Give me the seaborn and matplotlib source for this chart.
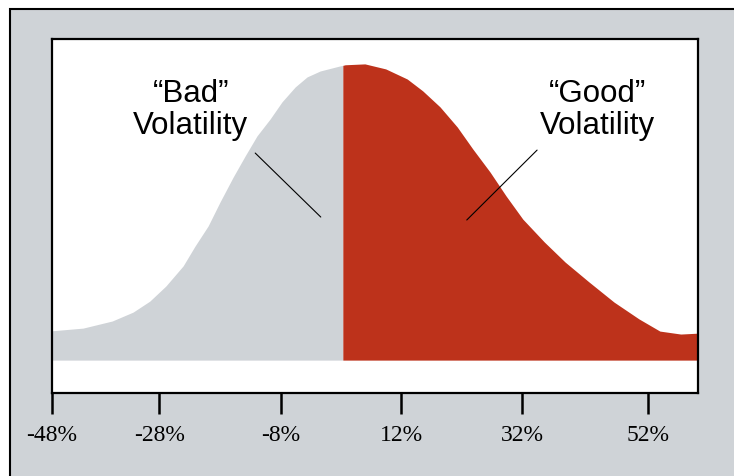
import numpy as np
import matplotlib.pyplot as plt
import seaborn as sns
from matplotlib.patches import Rectangle

# return (%) and relative height of the distribution
returns = [-48.0, -42.8, -37.9, -34.4, -31.6, -28.9, -26.0, -24.0, -21.8, -19.8,
           -17.6, -15.6, -13.6, -11.4, -9.4, -7.2, -5.2, -3.0, 0.3, 0.8, 1.2,
           4.5, 8.0, 11.6, 14.2, 17.1, 20.0, 22.6, 25.5, 28.2, 31.0, 34.6, 38.1,
           42.1, 46.3, 50.5, 54.0, 57.5, 60.4]
density = [0.099, 0.108, 0.132, 0.162, 0.199, 0.250, 0.318, 0.385, 0.453, 0.534,
           0.618, 0.689, 0.757, 0.814, 0.872, 0.922, 0.956, 0.976, 0.993, 0.995, 0.997,
           1.000, 0.983, 0.949, 0.909, 0.855, 0.787, 0.713, 0.635, 0.554, 0.476,
           0.399, 0.331, 0.264, 0.196, 0.139, 0.098, 0.088, 0.091]
split = 0.8

tick_pos = [-48.0, -30.0, -9.6, 10.6, 30.9, 52.0]
tick_labels = ["-48%", "-28%", "-8%", "12%", "32%", "52%"]

labels = ["\u201cBad\u201d\nVolatility", "\u201cGood\u201d\nVolatility"]
label_xy = [(-24.7, 0.848), (43.6, 0.848)]
pointers = [((-13.9, -2.9), (0.699, 0.483)), ((33.4, 21.6), (0.709, 0.473))]

gray = "#cfd3d7"
red = "#bd321b"

sns.set_style("white")
plt.rcParams["text.color"] = "black"
plt.rcParams["xtick.color"] = "black"

fig = plt.figure(figsize=(7.34, 4.77), dpi=100, facecolor="white")
frame = Rectangle((10 / 734, -0.1), 2, 1 - 10 / 477 + 0.1,
                  transform=fig.transFigure, facecolor=gray,
                  edgecolor="black", linewidth=1.5, zorder=-10)
fig.patches.append(frame)
ax = fig.add_axes([52 / 734, 1 - 394 / 477, (698 - 52) / 734, (394 - 40) / 477])
ax.set_zorder(5)
ax.set_facecolor("white")

x = np.array(returns)
y = np.array(density)
ax.fill_between(x, 0, y, where=x <= split, color=gray, linewidth=0)
ax.fill_between(x, 0, y, where=x >= split, color=red, linewidth=0)

for (px, py) in pointers:
    ax.plot(px, py, color="black", linewidth=0.8)

for txt, (tx, ty) in zip(labels, label_xy):
    ax.text(tx, ty, txt, ha="center", va="center", multialignment="center",
            fontsize=22.5, family=["Liberation Sans", "DejaVu Sans"], linespacing=1.12)

ax.set_xlim(-48.0, 60.4)
ax.set_ylim(-0.111, 1.084)
ax.set_xticks(tick_pos)
ax.set_xticklabels(tick_labels, family="Liberation Serif", fontsize=17)
ax.set_yticks([])
ax.tick_params(axis="x", direction="out", length=15, width=1.8, pad=7,
               bottom=True, color="black", labelcolor="black")
for s in ax.spines.values():
    s.set_visible(True)
    s.set_color("black")
    s.set_linewidth(1.6)

fig.savefig("out.png", dpi=100, facecolor="white")
